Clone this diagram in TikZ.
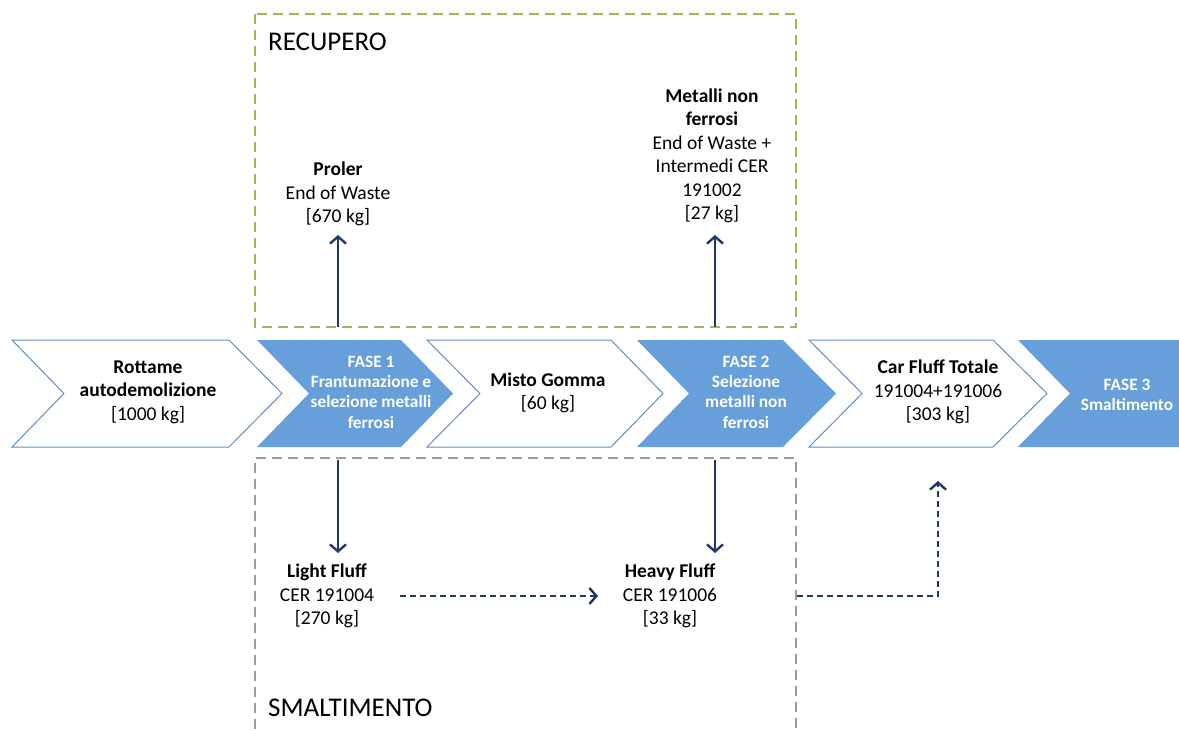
\documentclass[tikz,border=0pt]{standalone}
\usepackage{fontspec}
\setmainfont{Carlito}
\usetikzlibrary{arrows.meta}
\definecolor{chevblue}{HTML}{669FDA}
\definecolor{chevline}{HTML}{5B8FCB}
\definecolor{navy}{HTML}{1F3864}
\definecolor{boxgreen}{HTML}{9BBB59}
\definecolor{boxgray}{HTML}{9C9C9C}
\tikzset{
  whitechev/.style={draw=chevline, line width=1pt, fill=white},
  bluechev/.style={fill=chevblue, draw=none},
  bigtxt/.style={align=center, inner sep=0pt, font=\fontsize{19.5}{23.5}\selectfont},
  fasetxt/.style={align=center, inner sep=0pt, text=white, font=\fontsize{17.3}{20.3}\selectfont\bfseries},
  titletxt/.style={anchor=west, inner sep=0pt, font=\fontsize{27}{32}\selectfont},
  flow/.style={draw=navy, line width=1.5pt, -{Straight Barb[length=7pt,width=16pt,line width=2.4pt]}},
  dflow/.style={flow, dash pattern=on 6pt off 4pt},
  greenbox/.style={draw=boxgreen, line width=2.5pt, dash pattern=on 10pt off 6pt},
  graybox/.style={draw=boxgray, line width=2.5pt, dash pattern=on 10pt off 6pt},
}
\begin{document}
\begin{tikzpicture}[x=1pt,y=-1pt]
\useasboundingbox (0,0) rectangle (1179,731);
% group boxes
\draw[greenbox] (255,14) rectangle (796,327);
\draw[graybox] (255,745) -- (255,458) -- (796,458) -- (796,745);
% chevrons
\draw[whitechev] (12,340) -- (229,340) -- (282,393.5) -- (229,447) -- (12,447) -- (64,393.5) -- cycle;
\fill[bluechev] (257,340) -- (401,340) -- (453,393.5) -- (401,447) -- (257,447) -- (309,393.5) -- cycle;
\draw[whitechev] (427,340) -- (611,340) -- (663,393.5) -- (611,447) -- (427,447) -- (480,393.5) -- cycle;
\fill[bluechev] (637,340) -- (783,340) -- (836,393.5) -- (783,447) -- (637,447) -- (689,393.5) -- cycle;
\draw[whitechev] (809,340) -- (993,340) -- (1047,393.5) -- (993,447) -- (809,447) -- (862,393.5) -- cycle;
\fill[bluechev] (1018,340) -- (1179,340) -- (1179,447) -- (1018,447) -- (1070,393.5) -- cycle;
% chevron texts
\node[bigtxt] (rottame) at (148,392) {\textbf{Rottame}\\\textbf{autodemolizione}\\{}[1000 kg]};
\node[fasetxt] (fase1) at (371,392) {FASE 1\\Frantumazione e\\selezione metalli\\ferrosi};
\node[bigtxt] (misto) at (548,393) {\textbf{Misto Gomma}\\{}[60 kg]};
\node[fasetxt] (fase2) at (746,392) {FASE 2\\Selezione\\metalli non\\ferrosi};
\node[bigtxt] (carfluff) at (938,392) {\textbf{Car Fluff Totale}\\191004+191006\\{}[303 kg]};
\node[fasetxt] (fase3) at (1127,395) {FASE 3\\Smaltimento};
% box titles
\node[titletxt] (recupero) at (268,42) {RECUPERO};
\node[titletxt] (smalt) at (268,708) {SMALTIMENTO};
% outputs
\node[bigtxt] (proler) at (338,194) {\textbf{Proler}\\End of Waste\\{}[670 kg]};
\node[bigtxt] (metalli) at (712,156) {\textbf{Metalli non}\\\textbf{ferrosi}\\End of Waste +\\Intermedi CER\\191002\\{}[27 kg]};
\node[bigtxt] (light) at (327,596) {\textbf{Light Fluff}\\CER 191004\\{}[270 kg]};
\node[bigtxt] (heavy) at (670,596) {\textbf{Heavy Fluff}\\CER 191006\\{}[33 kg]};
% connector endpoints
\coordinate (f1top) at (338,327);
\coordinate (f1up) at (338,235);
\coordinate (f2top) at (715,327);
\coordinate (f2up) at (715,235);
\coordinate (f1bot) at (338,460);
\coordinate (f1down) at (338,553);
\coordinate (f2bot) at (715,460);
\coordinate (f2down) at (715,553);
\coordinate (lfout) at (400,596);
\coordinate (hfin) at (598,596);
\coordinate (hfout) at (797,596);
\coordinate (corner) at (938,596);
\coordinate (cfin) at (938,481);
% connectors
\draw[flow] (f1top) -- (f1up);
\draw[flow] (f2top) -- (f2up);
\draw[flow] (f1bot) -- (f1down);
\draw[flow] (f2bot) -- (f2down);
\draw[dflow] (lfout) -- (hfin);
\draw[dflow] (hfout) -- (corner) -- (cfin);
\end{tikzpicture}
\end{document}
